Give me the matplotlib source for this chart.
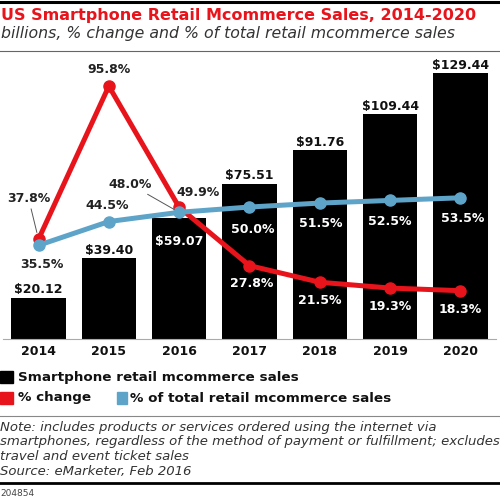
import matplotlib
matplotlib.use("Agg")
import matplotlib.pyplot as plt
from matplotlib.lines import Line2D
from matplotlib.patches import Rectangle

years = ["2014", "2015", "2016", "2017", "2018", "2019", "2020"]
sales = [20.12, 39.40, 59.07, 75.51, 91.76, 109.44, 129.44]
pct_change = [37.8, 95.8, 49.9, 27.8, 21.5, 19.3, 18.3]
pct_total = [35.5, 44.5, 48.0, 50.0, 51.5, 52.5, 53.5]

RED = "#e8141c"
BLUE = "#5ea4c9"
W, H = 500, 503

def fx(x):
    return x / W

def fy(y):
    return 1 - y / H

fig = plt.figure(figsize=(5, 5.03), dpi=100)
fig.patch.set_facecolor("white")

# axes region in pixels
ax_l, ax_r, ax_t, ax_b = 3.35, 495.6, 55, 339
ax = fig.add_axes([fx(ax_l), fy(ax_b), (ax_r - ax_l) / W, (ax_b - ax_t) / H])
ax2 = ax.twinx()
ax2.set_position(ax.get_position())

x = list(range(len(years)))
bars = ax.bar(x, sales, width=0.77, color="black", zorder=2)
ax.set_xlim(-0.5, 6.5)
ax.set_ylim(0, 138.2)
ax2.set_ylim(0, 107.6)

for a in (ax, ax2):
    for s in ("top", "right", "left"):
        a.spines[s].set_visible(False)
    a.set_yticks([])
ax2.spines["bottom"].set_visible(False)
ax.spines["bottom"].set_color("#aaaaaa")
ax.spines["bottom"].set_linewidth(0.8)
ax.set_xticks(x)
ax.set_xticklabels(years, fontsize=9, fontweight="bold", color="#111111")
ax.tick_params(axis="x", length=0, pad=4)

# bar value labels
for i, v in enumerate(sales):
    lab = f"${v:.2f}"
    if i == 2:
        ax.annotate(lab, (i, v), xytext=(0, -24), textcoords="offset pixels",
                    ha="center", va="center", fontsize=9, fontweight="bold",
                    color="white", zorder=5)
    else:
        ax.annotate(lab, (i, v), xytext=(0, 8), textcoords="offset pixels",
                    ha="center", va="center", fontsize=9, fontweight="bold",
                    color="#111111", zorder=5)

ax2.plot(x, pct_change, color=RED, lw=3.6, marker="o", markersize=8,
         solid_joinstyle="round", zorder=3)
ax2.plot(x, pct_total, color=BLUE, lw=3.6, marker="o", markersize=8,
         solid_joinstyle="round", zorder=4)

# percent label offsets (pixels) and colours
red_off = [(-10, 41), (0, 17), (19, 15), (2, -18), (0, -18), (0, -18), (0, -19)]
red_col = ["#222222", "#222222", "#222222", "white", "white", "white", "white"]
blue_off = [(3, -19), (-2, 16), (-49, 28), (3, -22), (1, -20), (0, -21), (2, -21)]
blue_col = ["#222222", "#222222", "#222222", "white", "white", "white", "white"]

for i, v in enumerate(pct_change):
    kw = {}
    if i == 0:
        kw["arrowprops"] = dict(arrowstyle="-", color="#555555", lw=0.7,
                                shrinkA=1, shrinkB=5)
    ax2.annotate(f"{v:.1f}%", (i, v), xytext=red_off[i], textcoords="offset pixels",
                 ha="center", va="center", fontsize=9, fontweight="bold",
                 color=red_col[i], zorder=6, **kw)
for i, v in enumerate(pct_total):
    kw = {}
    if i == 2:
        kw["arrowprops"] = dict(arrowstyle="-", color="#555555", lw=0.7,
                                shrinkA=1, shrinkB=4)
    ax2.annotate(f"{v:.1f}%", (i, v), xytext=blue_off[i], textcoords="offset pixels",
                 ha="center", va="center", fontsize=9, fontweight="bold",
                 color=blue_col[i], zorder=6, **kw)

# header
fig.add_artist(Line2D([0, 1], [fy(1.5), fy(1.5)], lw=2.2, color="black"))
fig.text(fx(1), fy(15.5), "US Smartphone Retail Mcommerce Sales, 2014-2020",
         ha="left", va="center", fontsize=11.5, fontweight="bold", color=RED)
fig.text(fx(1), fy(33.5), "billions, % change and % of total retail mcommerce sales",
         ha="left", va="center", fontsize=11.3, style="italic", color="#333333")
fig.add_artist(Line2D([0, 1], [fy(50.5), fy(50.5)], lw=0.8, color="#666666"))

# legend
fig.add_artist(Rectangle((fx(0), fy(383)), 13 / W, 12 / H, color="black",
                         transform=fig.transFigure))
fig.text(fx(18), fy(377), "Smartphone retail mcommerce sales", ha="left", va="center",
         fontsize=9.7, fontweight="bold", color="#111111")
fig.add_artist(Rectangle((fx(0), fy(404)), 13 / W, 12 / H, color=RED,
                         transform=fig.transFigure))
fig.text(fx(18), fy(398), "% change", ha="left", va="center",
         fontsize=9.7, fontweight="bold", color="#111111")
fig.add_artist(Rectangle((fx(117), fy(404)), 10 / W, 12 / H, color=BLUE,
                         transform=fig.transFigure))
fig.text(fx(130), fy(398), "% of total retail mcommerce sales", ha="left", va="center",
         fontsize=9.7, fontweight="bold", color="#111111")

fig.add_artist(Line2D([0, 1], [fy(416), fy(416)], lw=0.8, color="#888888"))

notes = ["Note: includes products or services ordered using the internet via",
         "smartphones, regardless of the method of payment or fulfillment; excludes",
         "travel and event ticket sales",
         "Source: eMarketer, Feb 2016"]
for k, line in enumerate(notes):
    fig.text(fx(0), fy(427 + 15 * k), line, ha="left", va="center",
             fontsize=9.5, style="italic", color="#333333")

fig.add_artist(Line2D([0, 1], [fy(483), fy(483)], lw=2.0, color="black"))
fig.text(fx(0), fy(494), "204854", ha="left", va="center", fontsize=6.5, color="#444444")

fig.savefig("out.png", dpi=100, facecolor="white")
